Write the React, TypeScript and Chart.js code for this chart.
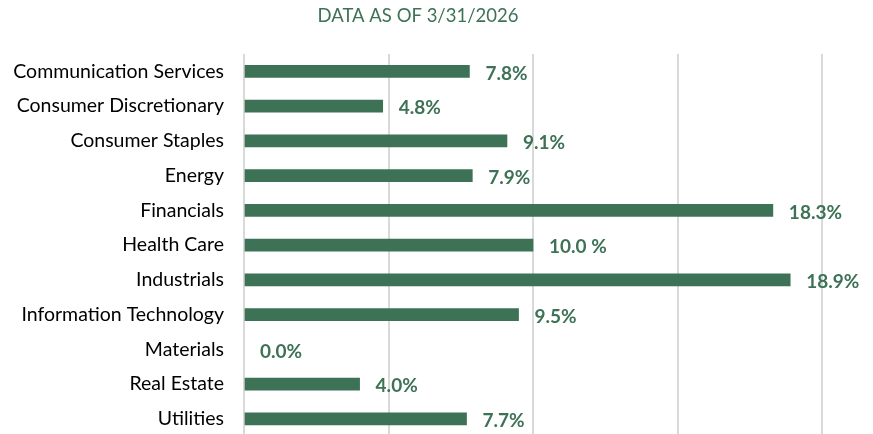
import React, { useEffect, useRef } from "react";
import { Chart, registerables } from "chart.js";

Chart.register(...registerables);

const categories = [
  "Communication Services",
  "Consumer Discretionary",
  "Consumer Staples",
  "Energy",
  "Financials",
  "Health Care",
  "Industrials",
  "Information Technology",
  "Materials",
  "Real Estate",
  "Utilities",
];
const values = [7.8, 4.8, 9.1, 7.9, 18.3, 10.0, 18.9, 9.5, 0.0, 4.0, 7.7];
const valueLabels = ["7.8%", "4.8%", "9.1%", "7.9%", "18.3%", "10.0 %", "18.9%", "9.5%", "0.0%", "4.0%", "7.7%"];
const titleText = "DATA AS OF 3/31/2026";

const GREEN = "#3d7256";
const FONT = "Lato, 'Open Sans', sans-serif";
const CANVAS_H = 468;

export default function App() {
  const ref = useRef<HTMLCanvasElement | null>(null);
  useEffect(() => {
    if (!ref.current) return;
    const labelPlugin = {
      id: "valueLabels",
      afterDatasetsDraw(chart: any) {
        const ctx = chart.ctx;
        const meta = chart.getDatasetMeta(0);
        ctx.save();
        ctx.fillStyle = GREEN;
        ctx.font = `bold 19px ${FONT}`;
        ctx.textAlign = "left";
        ctx.textBaseline = "middle";
        meta.data.forEach((bar: any, i: number) => {
          ctx.fillText(valueLabels[i], bar.x + 16, bar.y + 2);
        });
        ctx.fillStyle = GREEN;
        ctx.font = `18.5px ${FONT}`;
        ctx.textAlign = "center";
        ctx.fillText(titleText, 418, 16);
        ctx.restore();
      },
    };
    const chart = new Chart(ref.current, {
      type: "bar",
      data: {
        labels: categories,
        datasets: [
          {
            data: values,
            backgroundColor: (c: any) => (c.raw === 0 ? "rgba(0,0,0,0)" : GREEN),
            barThickness: 12,
          },
        ],
      },
      options: {
        indexAxis: "y",
        animation: false,
        responsive: false,
        maintainAspectRatio: false,
        layout: { padding: { top: 54, right: 51, bottom: 4, left: 0 } },
        plugins: { legend: { display: false }, tooltip: { enabled: false } },
        scales: {
          x: {
            min: 0,
            max: 20,
            ticks: { display: false, stepSize: 5 },
            grid: { color: "#d9d9d9", lineWidth: 2, drawTicks: false },
            border: { display: false },
            afterFit(axis: any) {
              axis.height = 0;
            },
          },
          y: {
            grid: { display: false, drawTicks: false },
            border: { display: false },
            ticks: {
              color: "#000",
              font: { family: FONT, size: 19.5 },
              padding: 20,
            },
            afterFit(axis: any) {
              axis.width = 244;
            },
          },
        },
      },
      plugins: [labelPlugin],
    });
    return () => chart.destroy();
  }, []);
  return (
    <div style={{ position: "fixed", left: 0, top: 0, width: 873, height: 434, overflow: "hidden", background: "#fff" }}>
      <canvas ref={ref} width={873} height={CANVAS_H} style={{ display: "block" }} />
    </div>
  );
}
